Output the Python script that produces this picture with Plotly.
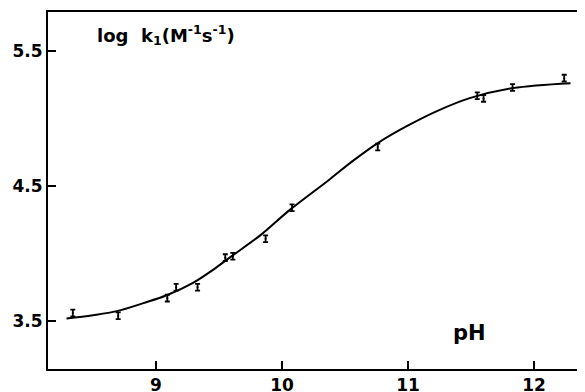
import plotly.graph_objects as go

# measured data (pH, log k1)
ph_pts = [8.34, 8.70, 9.09, 9.16, 9.33, 9.55, 9.61, 9.87, 10.08, 10.76, 11.55, 11.60, 11.83, 12.24]
logk_pts = [3.56, 3.54, 3.67, 3.75, 3.75, 3.97, 3.98, 4.11, 4.34, 4.79, 5.17, 5.15, 5.23, 5.30]
err_pts = [0.025] * len(ph_pts)

# fitted curve
ph_fit = [8.29, 8.50, 8.69, 8.90, 9.09, 9.29, 9.45, 9.59, 9.83, 10.06, 10.37, 10.56,
          10.76, 10.99, 11.23, 11.49, 11.83, 12.29]
logk_fit = [3.52, 3.544, 3.574, 3.633, 3.693, 3.781, 3.878, 3.974, 4.137, 4.322, 4.544, 4.685,
            4.819, 4.944, 5.056, 5.152, 5.226, 5.263]

x_ticks = [9, 10, 11, 12]
y_ticks = [3.5, 4.5, 5.5]

FONT = "DejaVu Sans"

fig = go.Figure()
fig.add_trace(go.Scatter(
    x=ph_fit, y=logk_fit, mode="lines",
    line=dict(color="black", width=2, shape="spline", smoothing=1.0),
    hoverinfo="skip", showlegend=False,
))
fig.add_trace(go.Scatter(
    x=ph_pts, y=logk_pts, mode="markers",
    marker=dict(size=2, color="black"),
    error_y=dict(type="data", array=err_pts, visible=True, color="black", thickness=1.8, width=2.5),
    showlegend=False,
))

# the page body adds an 8px offset, so the figure is sized to end at the window edge
fig.update_layout(
    width=577, height=384,
    margin=dict(l=40, r=0, t=4, b=23),
    paper_bgcolor="white", plot_bgcolor="white",
    font=dict(family=FONT, color="black"),
    xaxis=dict(
        range=[8.143, 12.405], tickvals=x_ticks, ticktext=["<b>%d</b>" % v for v in x_ticks],
        showgrid=False, zeroline=False, showline=True, linecolor="black", linewidth=2,
        mirror=True, ticks="inside", ticklen=8, tickwidth=2, tickcolor="black",
        tickfont=dict(family=FONT, size=17, color="black"), automargin=False,
    ),
    yaxis=dict(
        range=[3.145, 5.79], tickvals=y_ticks, ticktext=["<b>%.1f</b>" % v for v in y_ticks],
        showgrid=False, zeroline=False, showline=True, linecolor="black", linewidth=2,
        ticks="inside", ticklen=8, tickwidth=2, tickcolor="black",
        tickfont=dict(family=FONT, size=17, color="black"), automargin=False,
    ),
    annotations=[
        dict(text="<b>log  k<sub>1</sub>(M<sup>-1</sup>s<sup>-1</sup>)</b>",
             xref="x", yref="y", x=8.516, y=5.62, xanchor="left", yanchor="middle",
             showarrow=False, font=dict(family=FONT, size=18)),
        dict(text="<b>pH</b>", xref="x", yref="y", x=11.49, y=3.41,
             xanchor="center", yanchor="middle", showarrow=False,
             font=dict(family=FONT, size=21)),
    ],
)

fig.write_html("out.html")
